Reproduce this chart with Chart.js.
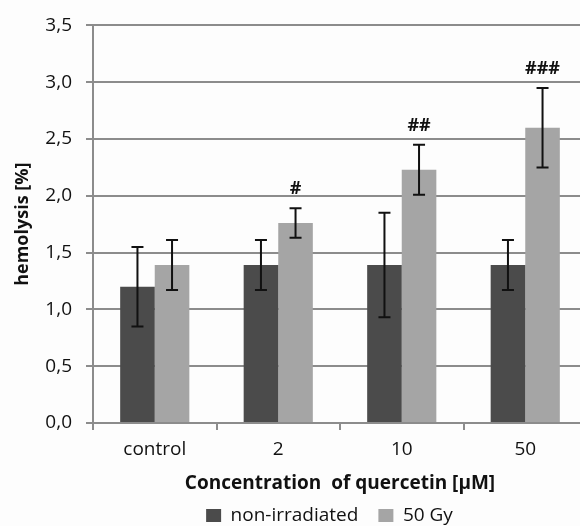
<!DOCTYPE html>
<html>
<head>
<meta charset="utf-8">
<script src="https://cdn.jsdelivr.net/npm/chart.js@4/dist/chart.umd.min.js"></script>
<style>
    html, body { margin: 0; padding: 0; background: #fdfdfd; overflow: hidden; }
    #wrap { width: 590px; height: 526px; }
</style>
</head>
<body>
<div id="wrap"><canvas id="hemoChart" width="590" height="526"></canvas></div>
<script>
// Data
const categories = ['control', '2', '10', '50'];
const nonIrradiated = [1.20, 1.39, 1.39, 1.39];
const nonIrradiatedErr = [0.35, 0.22, 0.46, 0.22];
const irradiated = [1.39, 1.76, 2.23, 2.60];
const irradiatedErr = [0.22, 0.13, 0.22, 0.35];
const significance = ['', '#', '##', '###'];
const yTicks = [0, 0.5, 1.0, 1.5, 2.0, 2.5, 3.0, 3.5];

const FONT = "'Open Sans', 'DejaVu Sans', sans-serif";
const AXIS_GREY = '#8c8c8c';

// Error bars + significance marks, placed through the y scale
const errorBarPlugin = {
    id: 'errorBars',
    afterDatasetsDraw(chart) {
        const ctx = chart.ctx;
        const yScale = chart.scales.y;
        const errs = [nonIrradiatedErr, irradiatedErr];
        chart.data.datasets.forEach((ds, di) => {
            const meta = chart.getDatasetMeta(di);
            meta.data.forEach((bar, i) => {
                const v = ds.data[i];
                const e = errs[di][i];
                const top = yScale.getPixelForValue(v + e);
                const bot = yScale.getPixelForValue(v - e);
                ctx.save();
                ctx.strokeStyle = '#111';
                ctx.lineWidth = 2;
                ctx.beginPath();
                ctx.moveTo(bar.x, top);
                ctx.lineTo(bar.x, bot);
                ctx.moveTo(bar.x - 6, top);
                ctx.lineTo(bar.x + 6, top);
                ctx.moveTo(bar.x - 6, bot);
                ctx.lineTo(bar.x + 6, bot);
                ctx.stroke();
                if (di === 1 && significance[i]) {
                    ctx.fillStyle = '#111';
                    ctx.font = 'bold 18px ' + FONT;
                    ctx.textAlign = 'center';
                    ctx.textBaseline = 'middle';
                    ctx.fillText(significance[i], bar.x, top - 19);
                }
                ctx.restore();
            });
        });
    }
};

// Nudge the legend under the plot centre, like the original figure
const legendShift = {
    id: 'legendShift',
    afterLayout(chart) {
        const l = chart.legend;
        l.left += 36;
        l.right += 36;
        l.top -= 11;
        l.bottom -= 11;
    }
};

new Chart(document.getElementById('hemoChart'), {
    type: 'bar',
    data: {
        labels: categories,
        datasets: [
            {
                label: 'non-irradiated',
                data: nonIrradiated,
                backgroundColor: '#4b4b4b',
                categoryPercentage: 0.56,
                barPercentage: 1.0
            },
            {
                label: '50 Gy',
                data: irradiated,
                backgroundColor: '#a5a5a5',
                categoryPercentage: 0.56,
                barPercentage: 1.0
            }
        ]
    },
    options: {
        responsive: false,
        animation: false,
        layout: { padding: { top: 23, right: 3, left: 0, bottom: -20 } },
        plugins: {
            legend: {
                position: 'bottom',
                labels: {
                    color: '#111',
                    font: { family: FONT, size: 19, weight: '500' },
                    boxWidth: 15,
                    boxHeight: 13,
                    padding: 20
                }
            },
            tooltip: { enabled: false }
        },
        scales: {
            x: {
                grid: {
                    offset: true,
                    drawOnChartArea: false,
                    drawTicks: true,
                    tickLength: 7,
                    color: AXIS_GREY,
                    lineWidth: 2
                },
                border: { color: AXIS_GREY, width: 2 },
                ticks: {
                    color: '#111',
                    font: { family: FONT, size: 19, weight: '500' },
                    padding: 8
                },
                title: {
                    display: true,
                    text: 'Concentration  of quercetin [\u00b5M]',
                    color: '#111',
                    font: { family: FONT, size: 19, weight: 'bold' },
                    padding: { top: 0, bottom: 2 }
                },
                afterFit(scale) { scale.height = 74; }
            },
            y: {
                min: 0,
                max: 3.5,
                afterBuildTicks(scale) {
                    scale.ticks = yTicks.map(v => ({ value: v }));
                },
                grid: {
                    color: AXIS_GREY,
                    lineWidth: 2,
                    tickLength: 7
                },
                border: { color: AXIS_GREY, width: 2 },
                ticks: {
                    color: '#111',
                    font: { family: FONT, size: 19, weight: '500' },
                    padding: 14,
                    callback: v => v.toFixed(1).replace('.', ',')
                },
                title: {
                    display: true,
                    text: 'hemolysis [%]',
                    color: '#111',
                    font: { family: FONT, size: 18, weight: 'bold' },
                    padding: { top: 12, bottom: 0 }
                },
                afterFit(scale) { scale.width = 93; }
            }
        }
    },
    plugins: [errorBarPlugin, legendShift]
});
</script>
</body>
</html>
